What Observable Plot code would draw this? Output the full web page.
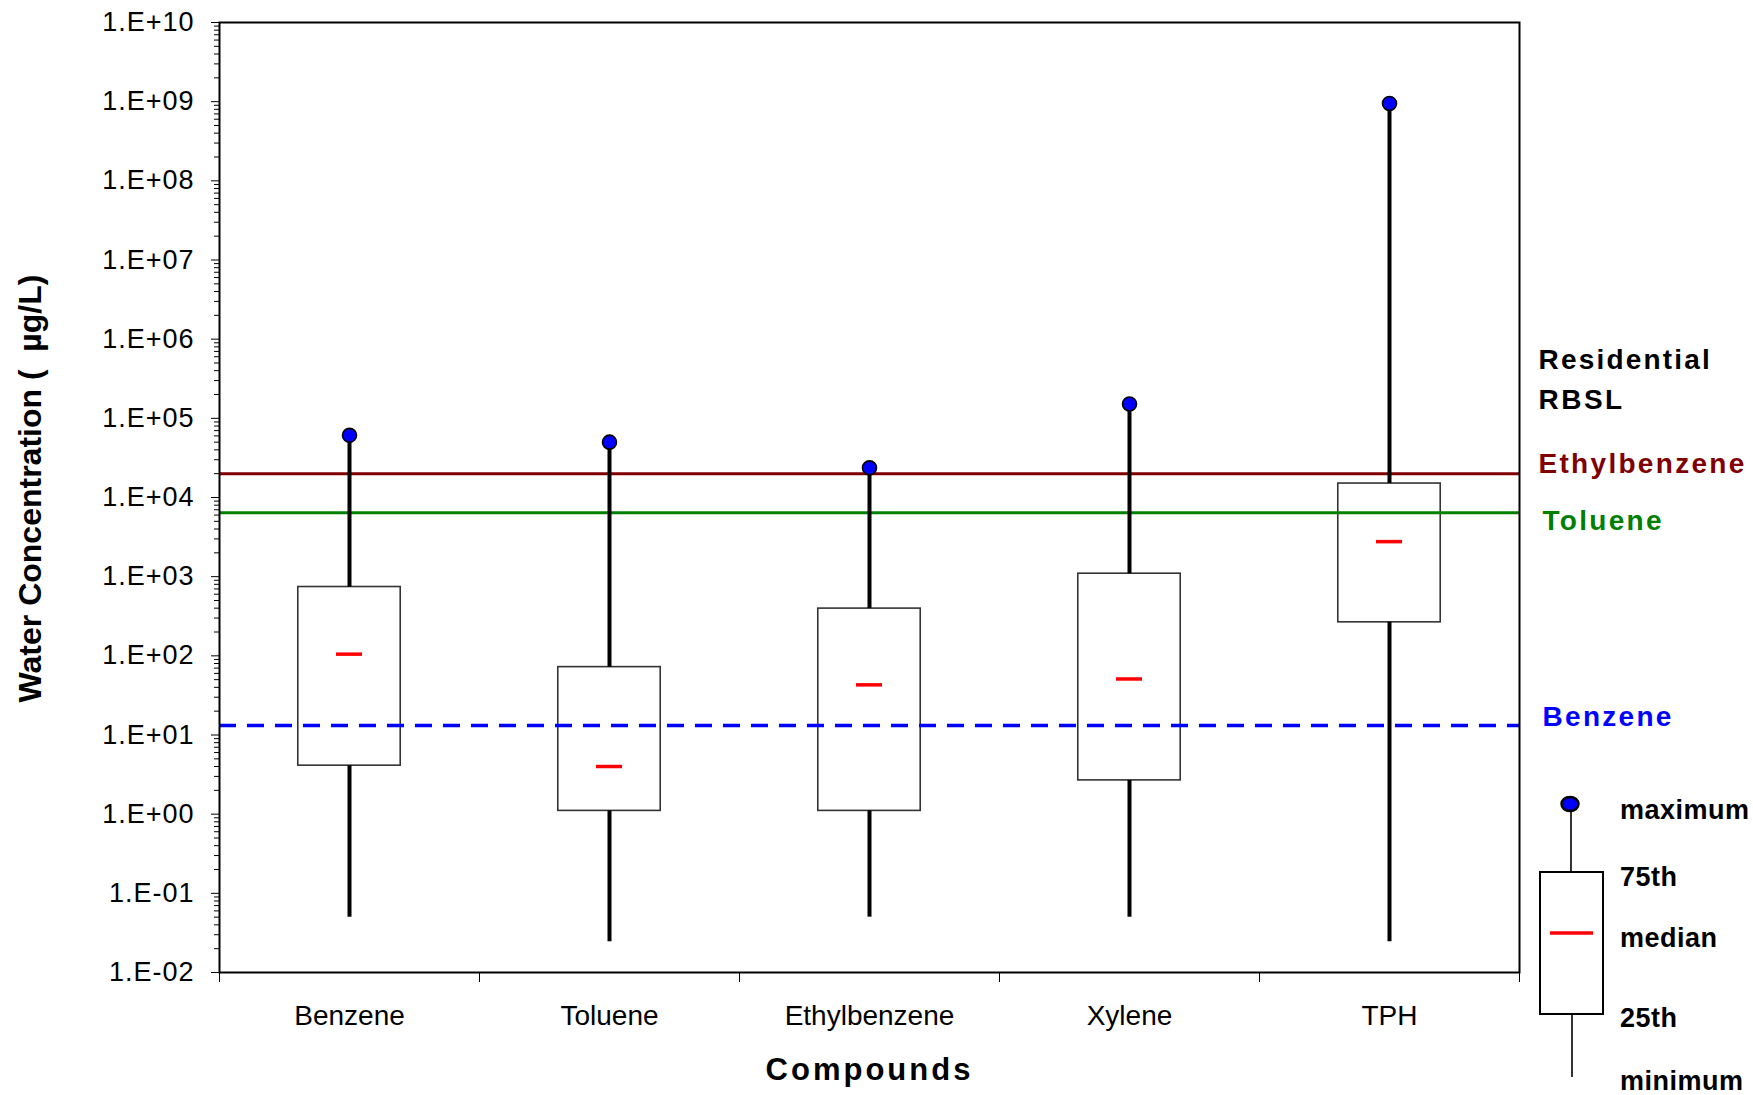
<!DOCTYPE html>
<html>
<head>
<meta charset="utf-8">
<script src="https://cdn.jsdelivr.net/npm/d3@7"></script>
<script src="https://cdn.jsdelivr.net/npm/@observablehq/plot@0.6"></script>
<style>
  html, body { margin: 0; padding: 0; background: white; }
  svg { display: block; }
</style>
</head>
<body>
<div id="chart"></div>
<script>
// ---- data ----
const categories = ["Benzene", "Toluene", "Ethylbenzene", "Xylene", "TPH"];
const minimum = [0.05, 0.0245, 0.05, 0.05, 0.0245];
const q25 = [4.1, 1.1, 1.1, 2.67, 265];
const median = [105, 4.0, 43, 51, 2770];
const q75 = [740, 72, 395, 1090, 15000];
const maximum = [61000, 50000, 23700, 152000, 9.5e8];

const rbslNames = ["Ethylbenzene", "Toluene", "Benzene"];
const rbslValues = [20000, 6400, 13.2];
const rbslColors = ["#800000", "#008000", "#0000ff"];

const yTicks = [1e-2, 1e-1, 1e0, 1e1, 1e2, 1e3, 1e4, 1e5, 1e6, 1e7, 1e8, 1e9, 1e10];
const yTickLabels = ["1.E-02", "1.E-01", "1.E+00", "1.E+01", "1.E+02", "1.E+03", "1.E+04",
                     "1.E+05", "1.E+06", "1.E+07", "1.E+08", "1.E+09", "1.E+10"];
const legendLabels = ["maximum", "75th", "median", "25th", "minimum"];

// minor log ticks (2..9 within each decade)
const minorTicks = [];
for (let e = -2; e < 10; e++) for (let k = 2; k <= 9; k++) minorTicks.push(k * Math.pow(10, e));

const rows = categories.map((c, i) => ({
  i, name: c, min: minimum[i], q1: q25[i], med: median[i], q3: q75[i], max: maximum[i]
}));
const rbsl = rbslNames.map((n, i) => ({name: n, value: rbslValues[i], color: rbslColors[i]}));

const boxHalf = 0.197;
const medHalf = 0.05;
const cx = d => d.i + 0.5;
const font = "'Liberation Sans', Arial, sans-serif";

const rbslLabel = (name, dx, dy) => Plot.text(rbsl.filter(d => d.name === name), {
  text: "name", y: "value", frameAnchor: "right", dx, dy, fill: "color",
  fontSize: 28, fontWeight: "bold", textAnchor: "start", lineAnchor: "bottom"
});

const svg = Plot.plot({
  width: 1753,
  height: 1095,
  marginLeft: 219,
  marginRight: 234,
  marginTop: 22,
  marginBottom: 123,
  style: {fontFamily: font, color: "black", background: "white", overflow: "visible"},
  x: {domain: [0, 5], axis: null},
  y: {type: "log", domain: [1e-2, 1e10], axis: null},
  marks: [
    Plot.rect(rows, {x1: d => cx(d) - boxHalf, x2: d => cx(d) + boxHalf, y1: "q1", y2: "q3",
      fill: "white", stroke: "#333", strokeWidth: 1.6}),
    Plot.ruleY(rbsl.filter(d => d.name !== "Benzene"), {y: "value", stroke: "color", strokeWidth: 3}),
    Plot.ruleY(rbsl.filter(d => d.name === "Benzene"), {y: "value", stroke: "color", strokeWidth: 3.5,
      strokeDasharray: "17,11"}),
    Plot.ruleX(rows, {x: cx, y1: "q3", y2: "max", stroke: "black", strokeWidth: 4}),
    Plot.ruleX(rows, {x: cx, y1: "min", y2: "q1", stroke: "black", strokeWidth: 4}),
    Plot.ruleY(rows, {y: "med", x1: d => cx(d) - medHalf, x2: d => cx(d) + medHalf, stroke: "red", strokeWidth: 3.5}),
    Plot.dot(rows, {x: cx, y: "max", r: 7, fill: "blue", stroke: "black", strokeWidth: 1.6}),
    Plot.frame({stroke: "black", strokeWidth: 2}),
    // y axis
    Plot.axisY({ticks: minorTicks, tickSize: 5, tickFormat: () => "", label: null}),
    Plot.axisY({ticks: yTicks, tickSize: 8, tickPadding: 17, fontSize: 27, label: null,
      tickFormat: d => yTickLabels[yTicks.findIndex(t => Math.abs(Math.log10(t) - Math.log10(d)) < 1e-6)]}),
    // x axis
    Plot.axisX({ticks: [0, 1, 2, 3, 4, 5], tickSize: 10, tickFormat: () => "", label: null}),
    Plot.axisX({ticks: categories.map((c, i) => i + 0.5), tickSize: 0, tickPadding: 33, fontSize: 28,
      label: null, tickFormat: d => categories[Math.floor(d)]}),
    // axis titles
    Plot.text(["Water Concentration (\u00a0\u00a0µg/L)"], {text: d => d, frameAnchor: "left", dx: -189, dy: -9,
      rotate: -90, fontSize: 32, fontWeight: "bold", textAnchor: "middle", lineAnchor: "middle"}),
    Plot.text(["Compounds"], {text: d => d, frameAnchor: "bottom", dy: 107, fontSize: 31, fontWeight: "bold",
      textAnchor: "middle", lineAnchor: "bottom"}),
    // RBSL annotation
    Plot.text(["Residential"], {text: d => d, frameAnchor: "top-right", dx: 19, dy: 346, fontSize: 28,
      fontWeight: "bold", textAnchor: "start", lineAnchor: "bottom"}),
    Plot.text(["RBSL"], {text: d => d, frameAnchor: "top-right", dx: 19, dy: 386, fontSize: 28,
      fontWeight: "bold", textAnchor: "start", lineAnchor: "bottom"}),
    rbslLabel("Ethylbenzene", 19, -1),
    rbslLabel("Toluene", 23, 17),
    rbslLabel("Benzene", 23, 1)
  ]
});

// letter spacing tweaks
const spacing = {"Residential": 2.2, "RBSL": 2.5, "Ethylbenzene": 2.3, "Toluene": 2.3, "Benzene": 2.3, "Compounds": 3};
d3.select(svg).selectAll("text").each(function() {
  const t = this.textContent;
  const p = this.parentNode;
  const bold = this.getAttribute("font-weight") === "bold" || (p && p.getAttribute("font-weight") === "bold");
  if (yTickLabels.includes(t)) this.style.letterSpacing = "1px";
  if (spacing[t] !== undefined && bold) this.style.letterSpacing = spacing[t] + "px";
});

// legend (explains box elements), drawn in the same SVG
const lg = d3.select(svg).append("g").attr("font-family", font).attr("font-weight", "bold")
  .attr("font-size", 27).attr("text-anchor", "start");
const lx = 1571;
lg.append("line").attr("x1", lx).attr("x2", lx).attr("y1", 806).attr("y2", 872)
  .attr("stroke", "black").attr("stroke-width", 1.6);
lg.append("rect").attr("x", 1540).attr("y", 872).attr("width", 63).attr("height", 142)
  .attr("fill", "white").attr("stroke", "black").attr("stroke-width", 2);
lg.append("line").attr("x1", 1550).attr("x2", 1593).attr("y1", 933).attr("y2", 933)
  .attr("stroke", "red").attr("stroke-width", 3.5);
lg.append("line").attr("x1", 1572).attr("x2", 1572).attr("y1", 1014).attr("y2", 1077)
  .attr("stroke", "black").attr("stroke-width", 1.6);
lg.append("ellipse").attr("cx", lx - 1).attr("cy", 804).attr("rx", 8.5).attr("ry", 7)
  .attr("fill", "blue").attr("stroke", "black").attr("stroke-width", 2.5);
const lgY = [819, 886, 947, 1027, 1090];
legendLabels.forEach((t, i) => {
  lg.append("text").attr("x", 1620).attr("y", lgY[i]).attr("fill", "black")
    .attr("text-anchor", "start").style("letter-spacing", "0.5px").text(t);
});

document.getElementById("chart").appendChild(svg);
</script>
</body>
</html>
